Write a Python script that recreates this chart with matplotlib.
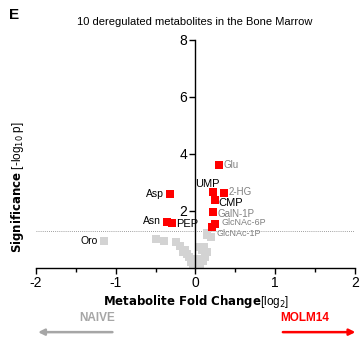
import matplotlib.pyplot as plt
import numpy as np

plt.rcParams["font.family"] = ["Liberation Sans", "DejaVu Sans"]

# significant metabolites (log2 fold change, -log10 p)
sig_names = ["Glu", "2-HG", "UMP", "CMP", "GalN-1P", "GlcNAc-6P", "GlcNAc-1P",
             "Asp", "Asn", "PEP"]
sig_fc = [0.30, 0.36, 0.225, 0.24, 0.225, 0.24, 0.21, -0.325, -0.36, -0.29]
sig_p = [3.61, 2.63, 2.67, 2.39, 1.96, 1.54, 1.44, 2.60, 1.61, 1.58]

# non-significant metabolites
ns_fc = [-1.15, -0.50, -0.39, -0.24, -0.20, -0.16, -0.13, -0.11, -0.08, -0.05,
         -0.03, 0.01, 0.02, 0.05, 0.09, 0.11, 0.14, 0.15, 0.20, 0.14, 0.12,
         0.09, 0.06, -0.02, 0.00, 0.04, 0.08, -0.06]
ns_p = [0.95, 1.02, 0.95, 0.91, 0.77, 0.56, 0.62, 0.50, 0.40, 0.21,
        0.15, 0.10, 0.04, 0.74, 0.74, 0.74, 1.16, 1.23, 1.09, 0.56, 0.40,
        0.25, 0.15, 0.05, 0.02, 0.30, 0.62, 0.30]

# label style: (offset pts, ha, colour, size)
label_style = {
    "Glu":       ((3, 0), "left", "#808080", 7),
    "2-HG":      ((3, 1), "left", "#808080", 7),
    "UMP":       ((-4, 6), "center", "black", 8),
    "CMP":       ((3, -2), "left", "black", 8),
    "GalN-1P":   ((3, -1), "left", "#808080", 7),
    "GlcNAc-6P": ((5, 1), "left", "#808080", 6.5),
    "GlcNAc-1P": ((3, -5), "left", "#808080", 6.5),
    "Asp":       ((-4, 0), "right", "black", 7.5),
    "Asn":       ((-4, 1), "right", "black", 7.5),
    "PEP":       ((3, -1), "left", "black", 8),
}

fig = plt.figure(figsize=(3.6, 3.41), dpi=100)
ax = fig.add_axes([0.1, 0.214, 0.886, 0.669])

ax.scatter(ns_fc, ns_p, marker="s", s=28, color="#d3d3d3", lw=0, zorder=2)
ax.scatter(sig_fc, sig_p, marker="s", s=26, color="#ff0000", lw=0, zorder=3)

for name, x, y in zip(sig_names, sig_fc, sig_p):
    off, ha, col, fs = label_style[name]
    ax.annotate(name, (x, y), xytext=off, textcoords="offset points",
                ha=ha, va="center", color=col, fontsize=fs)
ax.annotate("Oro", (ns_fc[0], ns_p[0]), xytext=(-4, 0), textcoords="offset points",
            ha="right", va="center", color="black", fontsize=7.5)

# p = 0.05 threshold
ax.axhline(-np.log10(0.05), color="#808080", lw=0.6, ls=(0, (1, 1.5)), zorder=1)

ax.set_xlim(-2, 2)
ax.set_ylim(0, 8)
ax.spines["left"].set_position(("data", 0))
ax.spines["right"].set_visible(False)
ax.spines["top"].set_visible(False)
for s in ["left", "bottom"]:
    ax.spines[s].set_linewidth(1.0)
ax.set_xticks([-2, -1, 0, 1, 2])
ax.set_xticks(np.arange(-1.5, 2, 1.0), minor=True)
ax.set_xticklabels(["-2", "-1", "0", "1", "2"])
ax.set_yticks([2, 4, 6, 8])
ax.tick_params(axis="both", labelsize=10, width=1.0, length=4, pad=2)
ax.tick_params(axis="x", which="minor", length=3, width=1.0)

fig.text(0.05, 0.45, r"$\bf{Significance}$ [-log$_{10}$ p]", rotation=90,
         ha="center", va="center", fontsize=8.5)
fig.text(0.545, 0.115, r"$\bf{Metabolite\ Fold\ Change}$[log$_2$]",
         ha="center", va="center", fontsize=8.5)
fig.text(0.54, 0.935, "10 deregulated metabolites in the Bone Marrow",
         ha="center", va="center", fontsize=8)
fig.text(0.025, 0.955, "E", ha="left", va="center", fontsize=11, fontweight="bold")

# direction arrows
fig.text(0.32, 0.068, "NAIVE", ha="right", va="center", fontsize=8.5,
         fontweight="bold", color="#a6a6a6")
ax.annotate("", xy=(0.098, 0.026), xytext=(0.32, 0.026), xycoords="figure fraction",
            arrowprops=dict(arrowstyle="-|>", color="#a6a6a6", lw=1.8,
                            mutation_scale=9))
fig.text(0.778, 0.068, "MOLM14", ha="left", va="center", fontsize=8.5,
         fontweight="bold", color="#ff0000")
ax.annotate("", xy=(0.995, 0.026), xytext=(0.778, 0.026), xycoords="figure fraction",
            arrowprops=dict(arrowstyle="-|>", color="#ff0000", lw=1.8,
                            mutation_scale=9))

fig.savefig("out.png", dpi=100)
